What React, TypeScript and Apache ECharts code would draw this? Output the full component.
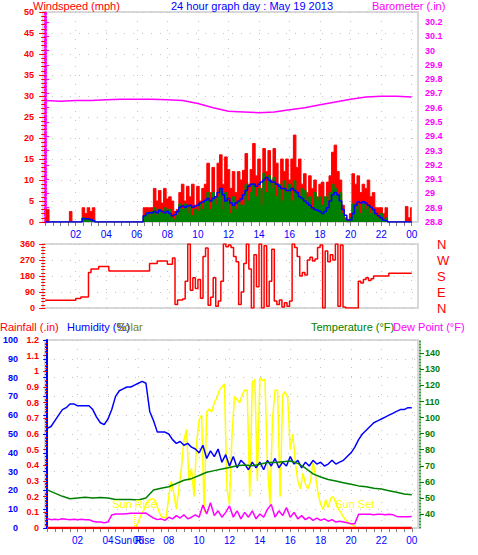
import React, { useEffect, useRef } from 'react';
import * as echarts from 'echarts';

const F = '"Liberation Sans", Arial, sans-serif';
const RED = '#ff0000';
const BLUE = '#0000ff';
const GREEN = '#008000';
const MAGENTA = '#ff00ff';
const YELLOW = '#ffff00';
const OLIVE = '#808000';
const GRID_BORDER = '#d8d8d8';
const DOT = '#c4c4c4';

// time axis (hours)
const XMIN = -0.144;
const XMAX = 24.41;
const hourLabels = [2, 4, 6, 8, 10, 12, 14, 16, 18, 20, 22, 24];
const SUN_RISE = 5.75;
const SUN_SET = 20.25;

// wind, 10-minute samples (mph)
const WIND_STEP = 1 / 6;
const windGust = [
  1, 3, 0, 0, 0, 0,
  0, 0, 0, 0, 2.5, 0,
  0, 0, 0, 3.4, 2, 3.4,
  2.5, 3.4, 0, 0, 0, 0,
  0, 0, 0, 0, 0, 0,
  0, 0, 0, 0, 0, 0,
  0, 0, 0, 3.4, 3.4, 3.4,
  3.4, 8, 5, 7.5, 4.5, 8,
  5.5, 6, 5, 2.5, 3, 7,
  9, 5, 8.5, 6, 9, 4,
  8.5, 5, 8, 9, 14, 7,
  13, 6, 14, 16, 9, 15.5,
  12.5, 8, 12, 7, 12, 10,
  12.3, 16.3, 9, 12.5, 18.7, 11,
  15, 8, 17.5, 12, 17, 10,
  17.5, 14, 9, 15, 12, 15,
  10, 15, 20.7, 13, 15, 9,
  11.5, 7, 11, 8, 10, 6,
  9, 9.5, 5, 9.5, 11, 16.6,
  18.3, 12, 10, 4, 1, 0.5,
  2, 11.5, 9, 11, 7, 9,
  8, 10, 6, 7, 3.4, 3.4,
  3.4, 2, 3.4, 0, 0, 0,
  0, 0, 0, 0, 3.7, 1,
  3.4,
];
const windSpeed = [
  0, 0, 0, 0, 0, 0,
  0, 0, 0, 0, 0, 0,
  0, 0, 0, 1, 0.5, 0.8,
  0.5, 0, 0, 0, 0, 0,
  0, 0, 0, 0, 0, 0,
  0, 0, 0, 0, 0, 0,
  0, 0, 0, 1.5, 2.2, 1,
  2.5, 3.4, 1.5, 3, 2, 3.4,
  2, 3, 1, 0.5, 1.5, 4.3,
  3, 4.3, 2, 4, 1.5, 3,
  2.5, 4.5, 3, 5, 7, 3,
  7, 4, 6, 8, 3, 7,
  5, 2, 6, 3, 5, 4,
  4, 9, 5, 7, 9.1, 6,
  8, 4, 11.6, 7, 11, 8,
  10.6, 6, 9, 5, 9.8, 7,
  9, 5, 9.8, 7, 6, 8,
  7.5, 4, 6, 3, 7, 5,
  6, 4, 6, 3, 7, 9,
  8, 6, 7, 2, 0.5, 0,
  1, 4.3, 3, 4, 2, 4.3,
  3, 4, 2, 3, 1.5, 1,
  2, 0.5, 1, 0, 0, 0,
  0, 0, 0, 0, 0, 0,
  0,
];
const windAvg = [
  0, 0, 0, 0, 0, 0,
  0, 0, 0, 0, 0, 0,
  0, 0, 0, 0.8, 0.8, 0.8,
  0.6, 0.3, 0, 0, 0, 0,
  0, 0, 0, 0, 0, 0,
  0, 0, 0, 0, 0, 0,
  0, 0, 0, 1.5, 2, 2.2,
  2.2, 2.5, 2.2, 2.8, 2.5, 2.2,
  2.5, 2, 1.5, 1.8, 2.5, 3.5,
  3.8, 3.5, 3.8, 4, 3.5, 3.8,
  4, 4.5, 4.8, 5.2, 5.6, 5,
  5.6, 6, 7, 8, 6.5, 5,
  5.6, 4.5, 4, 4.5, 5, 5.5,
  6.5, 7.5, 8.5, 9, 9, 8.5,
  9, 9.5, 10, 10.6, 10, 9.5,
  9.5, 9, 8.5, 8, 8, 7.5,
  7.5, 8, 7.5, 7, 6, 5.6,
  5, 4.5, 4, 3.4, 3, 2.8,
  2.5, 2, 2.5, 3.4, 5, 6.5,
  7, 6.5, 5, 3, 1.6, 0.5,
  0.5, 2, 4, 4.8, 4.5, 4.8,
  4.5, 4, 3.5, 3, 2, 1.5,
  1, 0.5, 0.3, 0, 0, 0,
  0, 0, 0, 0, 0, 0,
  0,
];

// barometer, hourly (in)
const barometer = [
  29.65, 29.645, 29.65, 29.65, 29.655, 29.66, 29.66, 29.66, 29.655, 29.65,
  29.63, 29.6, 29.575, 29.57, 29.565, 29.57, 29.585, 29.6, 29.62, 29.64,
  29.66, 29.675, 29.68, 29.68, 29.675,
];
const baroTicks = [28.8, 28.9, 29, 29.1, 29.2, 29.3, 29.4, 29.5, 29.6, 29.7, 29.8, 29.9, 30, 30.1, 30.2];

// wind direction, 10-minute samples (degrees)
const DIR_STEP = 1 / 6;
const windDir = [
  43, 43, 43, 43, 43, 43,
  43, 43, 43, 43, 43, 43,
  54, 54, 62, 62, 62, 200,
  219, 219, 219, 234, 234, 234,
  234, 208, 208, 208, 208, 208,
  208, 208, 208, 208, 208, 208,
  208, 208, 208, 208, 208, 251,
  251, 251, 264, 264, 264, 264,
  246, 246, 281, 20, 45, 45,
  50, 150, 360, 100, 170, 110,
  160, 55, 290, 337, 15, 60,
  170, 10, 40, 150, 360, 345,
  355, 340, 290, 260, 20, 90,
  250, 360, 220, 0, 300, 120,
  360, 0, 350, 10, 150, 330,
  40, 20, 45, 5, 30, 10,
  40, 360, 340, 290, 180, 200,
  185, 270, 285, 265, 275, 340,
  355, 0, 320, 260, 300, 270,
  360, 10, 355, 5, 0, 0,
  0, 0, 0, 150, 140, 160,
  170, 155, 165, 180, 180, 180,
  180, 180, 180, 196, 196, 196,
  196, 196, 196, 196, 196, 196,
  196,
];
const dirLetters: Record<number, string> = { 0: 'N', 90: 'E', 180: 'S', 270: 'W', 360: 'N' };

// humidity, 15-minute samples (%)
const HUM_STEP = 0.25;
const humidity = [
  53, 54, 57, 60, 63, 64, 66, 66,
  65, 65, 65, 65, 63, 59, 56, 55,
  58, 63, 70, 73, 74, 75, 75, 76,
  77, 78, 77, 62, 57, 51, 51, 51,
  50, 47, 45, 46, 44, 45, 43, 42,
  40, 44, 37, 41, 38, 42, 35, 39,
  33, 38, 32, 36, 34, 31, 35, 32,
  35, 31, 36, 33, 37, 32, 35, 33,
  38, 34, 36, 32, 35, 33, 36, 34,
  35, 33, 34, 36, 34, 35, 36, 38,
  40, 43, 47, 50, 52, 54, 56, 57,
  58, 59, 60, 61, 62, 63, 63, 64,
  64,
];

// temperature, 30-minute samples (F)
const TEMP_STEP = 0.5;
const temperature = [
  55, 53, 51, 49.5, 50, 50.5, 50, 50.3, 50, 49, 49, 49,
  48.7, 50, 55, 56, 57, 59, 61, 62, 64, 66, 67, 68,
  69, 70, 70.5, 70, 71, 72, 72, 72.5, 73, 71.5, 68.5, 65,
  63, 61.5, 60.5, 59.5, 58.5, 57.5, 57, 56, 55.5, 54.5, 53.5, 52.5,
  52,
];
const tempTicks = [40, 50, 60, 70, 80, 90, 100, 110, 120, 130, 140];

// dew point, 15-minute samples (F)
const DEW_STEP = 0.25;
const dewPoint = [
  37, 36.5, 36.7, 36.5, 37, 36.7, 36.5, 36.7, 36.5, 36.7, 36.5, 36.5,
  35.5, 35, 35, 34.5, 35,
  39.4, 40, 40, 40, 40.2, 40.4, 40.4, 40.4, 40.4, 40.6,
  39, 37.5, 36.5, 37, 36,
  38, 37, 39, 37.5, 39.5, 37, 38, 39.5,
  38, 45.6, 40, 47, 39, 42, 38, 41,
  45, 38, 42, 37, 41, 38, 42, 37,
  40, 38, 43, 46, 38, 42, 39, 44,
  38, 41, 37, 39, 36.5, 38, 36, 37.5,
  36, 37, 35.5, 36.5, 35, 35.5, 35, 34.5,
  34, 34, 39.8, 39.8, 39.8, 39.8, 39.6, 39.8, 39.8, 39.6, 39.8, 39.6,
  38.5, 38.3, 38.3, 38.3, 38.5,
];

// solar radiation, 10-minute samples (W/m2)
const SOLAR_STEP = 1 / 6;
const solar = [
  0, 0, 0, 0, 0, 0,
  0, 0, 0, 0, 0, 0,
  0, 0, 0, 0, 0, 0,
  0, 0, 0, 0, 0, 0,
  0, 0, 0, 0, 0, 0,
  0, 0, 0, 0, 0, 5,
  40, 80, 110, 150, 175, 185,
  186, 160, 110, 75, 65, 70,
  200, 300, 220, 120, 250, 380,
  560, 630, 300, 380, 200, 540,
  690, 720, 100, 740, 760, 740,
  800, 830, 880, 900, 920, 250,
  150, 600, 840, 820, 800, 850,
  880, 880, 200, 930, 950, 300,
  960, 940, 950, 400, 150, 700,
  880, 880, 200, 850, 870, 830,
  500, 600, 420, 300, 250, 350,
  280, 250, 300, 420, 330, 220,
  150, 120, 180, 130, 190, 200,
  160, 120, 100, 70, 50, 35,
  25, 15, 0, 0, 0, 0,
  0, 0, 0, 0, 0, 0,
  0, 0, 0, 0, 0, 0,
  0, 0, 0, 0, 0, 0,
  0,
];

// rainfall, hourly (in)
const rainfall = [0, 0, 0, 0, 0, 0, 0, 0, 0, 0, 0, 0, 0, 0, 0, 0, 0, 0, 0, 0, 0, 0, 0, 0, 0];

const pts = (arr: number[], step: number) => arr.map((v, i) => [i * step, v]);
const halfHourTicks = Array.from({ length: 49 }, (_, i) => i / 2);
const hourFmt = (v: number) => {
  if (Math.abs(v - SUN_RISE) < 1e-6) return 'Sun Rise';
  return String(Math.round(v) % 24).padStart(2, '0');
};

const axisFont = { fontFamily: F, fontSize: 9, fontWeight: 'bold' as const };
const dotLine = { show: true, lineStyle: { color: DOT, type: [1, 8] as number[], width: 1 } };

const mainX = (gridIndex: number, labels: number[] | null) => ({
  type: 'value',
  gridIndex,
  min: XMIN,
  max: XMAX,
  position: 'bottom',
  axisLine: { show: false },
  axisTick: labels
    ? { show: true, customValues: halfHourTicks, length: 4, lineStyle: { color: '#808080' } }
    : { show: false },
  axisLabel: labels
    ? { show: true, customValues: labels, formatter: hourFmt, color: BLUE, fontFamily: F, fontSize: 10, margin: 7 }
    : { show: false },
  splitLine: { show: false },
});
const gridX = (gridIndex: number) => ({
  type: 'value',
  gridIndex,
  min: XMIN,
  max: XMAX,
  axisLine: { show: false },
  axisTick: { show: false, customValues: hourLabels },
  axisLabel: { show: false },
  splitLine: dotLine,
});

const titleStyle = (color: string) => ({ color, fontSize: 11, fontWeight: 'normal' as const, fontFamily: F });

const option = {
  animation: false,
  backgroundColor: '#ffffff',
  textStyle: { fontFamily: F },
  title: [
    { text: 'Windspeed (mph)', left: 33, top: 0, padding: 0, textStyle: titleStyle(RED) },
    { text: '24 hour graph day : May 19 2013', left: 171, top: 0, padding: 0, textStyle: titleStyle(BLUE) },
    { text: 'Barometer (.in)', left: 372, top: 0, padding: 0, textStyle: titleStyle(MAGENTA) },
    { text: 'Rainfall (.in)', left: 0, top: 321, padding: 0, textStyle: titleStyle(RED) },
    { text: 'Humidity (%)', left: 67, top: 321, padding: 0, textStyle: titleStyle(BLUE) },
    { text: 'Solar', left: 117, top: 321, padding: 0, textStyle: titleStyle(OLIVE) },
    { text: 'Temperature (°F)', left: 311, top: 321, padding: 0, textStyle: titleStyle(GREEN) },
    { text: 'Dew Point (°F)', left: 393, top: 321, padding: 0, textStyle: titleStyle(MAGENTA) },
  ],
  grid: [
    { left: 43, top: 12, width: 375, height: 210, show: true, borderColor: GRID_BORDER, borderWidth: 2, backgroundColor: '#fff' },
    { left: 43, top: 244, width: 375, height: 64, show: true, borderColor: GRID_BORDER, borderWidth: 2, backgroundColor: '#fff' },
    { left: 43, top: 340, width: 375, height: 188, show: true, borderColor: GRID_BORDER, borderWidth: 2, backgroundColor: '#fff' },
  ],
  xAxis: [mainX(0, hourLabels), gridX(0), mainX(1, null), gridX(1), mainX(2, [...hourLabels, SUN_RISE].sort((a, b) => a - b)), gridX(2)],
  yAxis: [
    {
      type: 'value', gridIndex: 0, position: 'left', min: 0, max: 50, interval: 5,
      axisLine: { show: false },
      axisTick: { show: true, length: 6, lineStyle: { color: RED } },
      minorTick: { show: true, splitNumber: 5, length: 4, lineStyle: { color: RED } },
      axisLabel: { ...axisFont, color: RED, margin: 9 },
      splitLine: dotLine,
    },
    {
      type: 'value', gridIndex: 0, position: 'right', offset: 2, min: 28.8, max: 30.27,
      axisLine: { show: true, lineStyle: { color: MAGENTA, width: 3, type: [1, 2.3] } },
      axisTick: { show: true, customValues: baroTicks, length: 4, lineStyle: { color: MAGENTA } },
      axisLabel: { ...axisFont, customValues: baroTicks, color: MAGENTA, margin: 5, formatter: (v: number) => String(+v.toFixed(1)) },
      splitLine: { show: false },
    },
    {
      type: 'value', gridIndex: 1, position: 'left', min: 0, max: 360, interval: 90,
      axisLine: { show: false },
      axisTick: { show: true, length: 6, lineStyle: { color: RED } },
      minorTick: { show: true, splitNumber: 5, length: 4, lineStyle: { color: RED } },
      axisLabel: { ...axisFont, color: RED, margin: 8 },
      splitLine: dotLine,
    },
    {
      type: 'value', gridIndex: 1, position: 'right', min: 0, max: 360, interval: 90,
      axisLine: { show: false },
      axisTick: { show: false },
      axisLabel: { color: RED, fontFamily: F, fontSize: 13, margin: 19, formatter: (v: number) => dirLetters[v] ?? '' },
      splitLine: { show: false },
    },
    {
      type: 'value', gridIndex: 2, position: 'left', min: 0, max: 1.2, interval: 0.1,
      axisLine: { show: false },
      axisTick: { show: true, length: 4, lineStyle: { color: RED } },
      minorTick: { show: true, splitNumber: 5, length: 2, lineStyle: { color: RED } },
      axisLabel: { ...axisFont, color: RED, margin: 6 },
      splitLine: { show: false },
    },
    {
      type: 'value', gridIndex: 2, position: 'left', offset: 22, min: 0, max: 100, interval: 10,
      axisLine: { show: true, lineStyle: { color: BLUE, width: 2 } },
      axisTick: { show: true, length: 4, lineStyle: { color: BLUE } },
      minorTick: { show: true, splitNumber: 5, length: 2, lineStyle: { color: BLUE } },
      axisLabel: { ...axisFont, color: BLUE, margin: 5 },
      splitLine: dotLine,
    },
    {
      type: 'value', gridIndex: 2, position: 'right', offset: 2, min: 31.29, max: 148.28,
      axisLine: { show: true, lineStyle: { color: GREEN, width: 1.5, type: [1, 2] } },
      axisTick: { show: true, customValues: tempTicks, length: 4, lineStyle: { color: GREEN } },
      axisLabel: { ...axisFont, customValues: tempTicks, color: GREEN, margin: 5 },
      splitLine: { show: false },
    },
    { type: 'value', gridIndex: 2, show: false, min: 0, max: 1200 },
  ],
  series: [
    {
      name: 'Wind gust', type: 'line', xAxisIndex: 0, yAxisIndex: 0, step: 'middle', symbol: 'none',
      data: pts(windGust, WIND_STEP), lineStyle: { color: RED, width: 1 }, itemStyle: { color: RED },
      areaStyle: { color: RED, opacity: 1 }, z: 2,
    },
    {
      name: 'Wind speed', type: 'line', xAxisIndex: 0, yAxisIndex: 0, step: 'middle', symbol: 'none',
      data: pts(windSpeed, WIND_STEP), lineStyle: { color: GREEN, width: 1 }, itemStyle: { color: GREEN },
      areaStyle: { color: GREEN, opacity: 1 }, z: 3,
    },
    {
      name: 'Wind average', type: 'line', xAxisIndex: 0, yAxisIndex: 0, step: 'middle', symbol: 'none',
      data: pts(windAvg, WIND_STEP), lineStyle: { color: BLUE, width: 1.5 }, itemStyle: { color: BLUE }, z: 4,
    },
    {
      name: 'Barometer', type: 'line', xAxisIndex: 0, yAxisIndex: 1, symbol: 'none',
      data: pts(barometer, 1), lineStyle: { color: MAGENTA, width: 1.5 }, itemStyle: { color: MAGENTA }, z: 5,
    },
    {
      name: 'Wind direction', type: 'line', xAxisIndex: 2, yAxisIndex: 2, step: 'end', symbol: 'none',
      data: pts(windDir, DIR_STEP), lineStyle: { color: RED, width: 1.5 }, itemStyle: { color: RED },
    },
    {
      name: 'Solar', type: 'line', xAxisIndex: 4, yAxisIndex: 7, symbol: 'none',
      data: pts(solar, SOLAR_STEP), lineStyle: { color: YELLOW, width: 1.5 }, itemStyle: { color: YELLOW }, z: 2,
      markLine: {
        silent: true,
        symbol: 'none',
        lineStyle: { color: YELLOW, type: 'dotted', width: 1 },
        label: { show: true, position: 'end', formatter: '{b}', color: YELLOW, fontFamily: F, fontSize: 11, distance: 4 },
        data: [
          [{ coord: [SUN_RISE, 0], name: 'Sun Rise' }, { coord: [SUN_RISE, 90] }],
          [{ coord: [SUN_SET, 0], name: 'Sun Set' }, { coord: [SUN_SET, 90] }],
        ],
      },
    },
    {
      name: 'Humidity', type: 'line', xAxisIndex: 4, yAxisIndex: 5, symbol: 'none',
      data: pts(humidity, HUM_STEP), lineStyle: { color: BLUE, width: 1.5 }, itemStyle: { color: BLUE }, z: 3,
    },
    {
      name: 'Temperature', type: 'line', xAxisIndex: 4, yAxisIndex: 6, symbol: 'none',
      data: pts(temperature, TEMP_STEP), lineStyle: { color: GREEN, width: 1.5 }, itemStyle: { color: GREEN }, z: 4,
    },
    {
      name: 'Dew Point', type: 'line', xAxisIndex: 4, yAxisIndex: 6, symbol: 'none',
      data: pts(dewPoint, DEW_STEP), lineStyle: { color: MAGENTA, width: 1.5 }, itemStyle: { color: MAGENTA }, z: 5,
    },
    {
      name: 'Rainfall', type: 'line', xAxisIndex: 4, yAxisIndex: 4, symbol: 'none',
      data: pts(rainfall, 1), lineStyle: { color: RED, width: 2.5 }, itemStyle: { color: RED }, z: 6,
    },
  ],
};

export default function App() {
  const ref = useRef<HTMLDivElement>(null);
  useEffect(() => {
    if (!ref.current) return;
    const chart = echarts.init(ref.current, undefined, { renderer: 'svg' });
    chart.setOption(option as any);
    return () => chart.dispose();
  }, []);
  return (
    <div
      ref={ref}
      style={{ position: 'absolute', left: 0, top: 0, width: 478, height: 555, background: '#ffffff' }}
    />
  );
}
